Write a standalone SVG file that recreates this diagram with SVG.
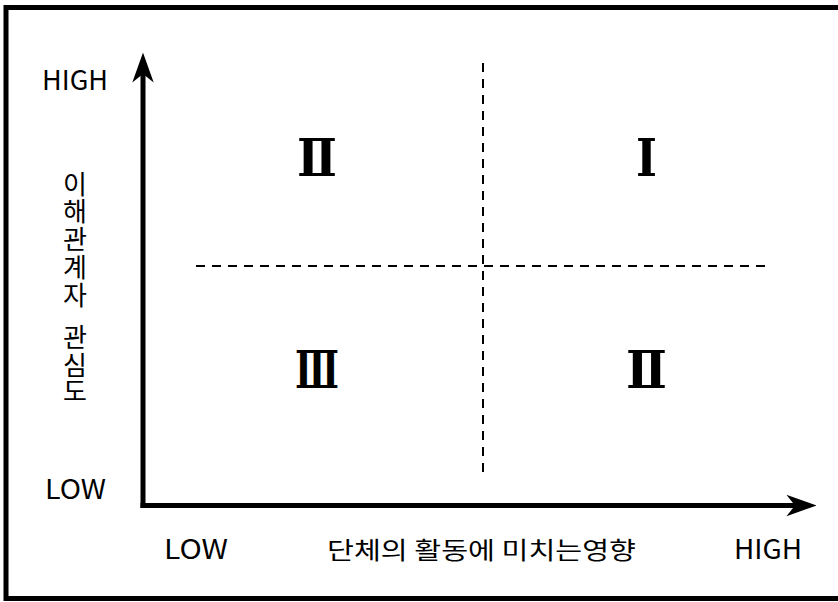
<svg xmlns="http://www.w3.org/2000/svg" width="838" height="602" viewBox="0 0 838 602">
<style>
.lbl{font-family:"Noto Sans CJK KR","Noto Sans",sans-serif;font-size:24px;fill:#000}
.lat{font-size:27px}
.vt{font-size:26px}
.num{font-family:"DejaVu Serif","Noto Sans CJK KR",serif;font-weight:bold;font-size:52px;fill:#000}
.axis{stroke:#000;stroke-width:5;fill:none}
.dash{stroke:#000;stroke-width:2;stroke-dasharray:9 7;fill:none}
</style>
<defs>
<marker id="arr" markerUnits="userSpaceOnUse" markerWidth="30" markerHeight="22" viewBox="0 0 28 20" refX="8" refY="10" orient="auto">
<path d="M0,0 L28,10 L0,20 L8,10 Z" fill="#000"/>
</marker>
</defs>
<rect x="6" y="7.5" width="850" height="591" fill="#fff" stroke="#000" stroke-width="5"/>
<g id="connectors">
<line class="dash" x1="483" y1="63" x2="483" y2="472"/>
<line class="dash" x1="196" y1="266" x2="768" y2="266"/>
<line class="axis" x1="143" y1="508" x2="143" y2="74" marker-end="url(#arr)"/>
<line class="axis" x1="140.5" y1="505.5" x2="795" y2="505.5" marker-end="url(#arr)"/>
</g>
<g id="y-high"><text class="lbl lat" x="42" y="90" textLength="66" lengthAdjust="spacingAndGlyphs">HIGH</text></g>
<g id="y-low"><text class="lbl lat" x="45" y="499" textLength="61" lengthAdjust="spacingAndGlyphs">LOW</text></g>
<g id="x-low"><text class="lbl lat" x="164" y="559" textLength="64" lengthAdjust="spacingAndGlyphs">LOW</text></g>
<g id="x-high"><text class="lbl lat" x="734" y="559" textLength="68" lengthAdjust="spacingAndGlyphs">HIGH</text></g>
<g id="x-title"><text class="lbl" x="327" y="559" font-size="25" textLength="309" lengthAdjust="spacingAndGlyphs">단체의 활동에 미치는영향</text></g>
<g id="y-title" class="lbl vt" text-anchor="middle">
<text x="75" y="194">이</text>
<text x="75" y="221">해</text>
<text x="75" y="249">관</text>
<text x="75" y="277">계</text>
<text x="75" y="305">자</text>
<text x="75" y="347">관</text>
<text x="75" y="375">심</text>
<text x="75" y="401">도</text>
</g>
<g id="q2"><text class="num" x="297" y="176" textLength="40" lengthAdjust="spacingAndGlyphs">Ⅱ</text></g>
<g id="q1"><text class="num" x="636" y="176" textLength="21" lengthAdjust="spacingAndGlyphs">Ⅰ</text></g>
<g id="q3"><text class="num" x="295" y="388" textLength="44" lengthAdjust="spacingAndGlyphs">Ⅲ</text></g>
<g id="q4"><text class="num" x="626" y="388" textLength="41" lengthAdjust="spacingAndGlyphs">Ⅱ</text></g>
</svg>
